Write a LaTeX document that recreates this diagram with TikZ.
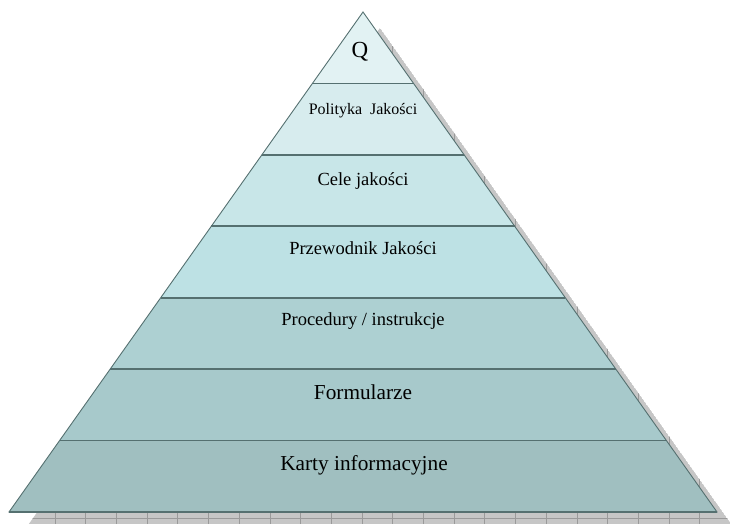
\documentclass[tikz,border=0pt]{standalone}
\usepackage{fontspec}
\setmainfont{Liberation Serif}
\definecolor{c1}{HTML}{E2F2F3}
\definecolor{c2}{HTML}{D7ECEE}
\definecolor{c3}{HTML}{C8E6E8}
\definecolor{c4}{HTML}{BDE1E4}
\definecolor{c5}{HTML}{ADD0D2}
\definecolor{c6}{HTML}{A7C9CB}
\definecolor{c7}{HTML}{A0BFC0}
\definecolor{edgec}{HTML}{557070}
\definecolor{shadowc}{HTML}{C6C6C6}
\definecolor{gridc}{HTML}{9A9A9A}
\tikzset{
  edgeline/.style={draw=edgec, line width=0.9pt, line join=miter},
  sepline/.style={draw=edgec, line width=1.8pt},
  gridline/.style={draw=gridc, line width=0.7pt},
  lbl/.style={anchor=base, inner sep=0pt, text=black},
}
\begin{document}
\begin{tikzpicture}[x=1pt,y=-1pt]
\useasboundingbox (0,0) rectangle (730,523);
% coordinates of the layer boundaries
\foreach \i in {0,...,7}{
  \coordinate (L\i) at ({363-\i*354/7},{12+\i*500/7});
  \coordinate (R\i) at ({363+\i*354/7},{12+\i*500/7});
}
% shadow
\coordinate (SA) at (380,28);
\coordinate (SL) at (26,528);
\coordinate (SR) at (734,528);
\begin{scope}
  \clip (0,0) rectangle (730,523);
  \clip (SA) -- (SL) -- (SR) -- cycle;
  \fill[shadowc] (SA) -- (SL) -- (SR) -- cycle;
  \foreach \k in {0,...,23}{
    \draw[gridline] ({24.3+30.7*\k},0) -- ++(0,540);
  }
  \draw[gridline] (0,518) -- ++(740,0);
\end{scope}
% layers
\fill[c1] (L0) -- (L1) -- (R1) -- cycle;
\foreach \i/\c in {2/c2,3/c3,4/c4,5/c5,6/c6,7/c7}{
  \pgfmathtruncatemacro\j{\i-1}
  \fill[\c] (L\j) -- (L\i) -- (R\i) -- (R\j) -- cycle;
}
\foreach \i in {1,...,6}{
  \draw[sepline] (L\i) -- (R\i);
}
\draw[edgeline] (L0) -- (L7) -- (R7) -- cycle;
\draw[sepline] (L7) -- (R7);
% labels
\node[lbl, font=\fontsize{23}{26}\selectfont] (q) at (360,57) {Q};
\node[lbl, font=\fontsize{16}{19}\selectfont] (pol) at (363,114) {Polityka\ \ Jakości};
\node[lbl, font=\fontsize{18.5}{22}\selectfont] (cele) at (363,185) {Cele jakości};
\node[lbl, font=\fontsize{18.5}{22}\selectfont] (prz) at (363,254) {Przewodnik Jakości};
\node[lbl, font=\fontsize{18.5}{22}\selectfont] (proc) at (363,325) {Procedury / instrukcje};
\node[lbl, font=\fontsize{21.3}{25}\selectfont] (form) at (363,399) {Formularze};
\node[lbl, font=\fontsize{21.3}{25}\selectfont] (karty) at (364,470) {Karty informacyjne};
\end{tikzpicture}
\end{document}
